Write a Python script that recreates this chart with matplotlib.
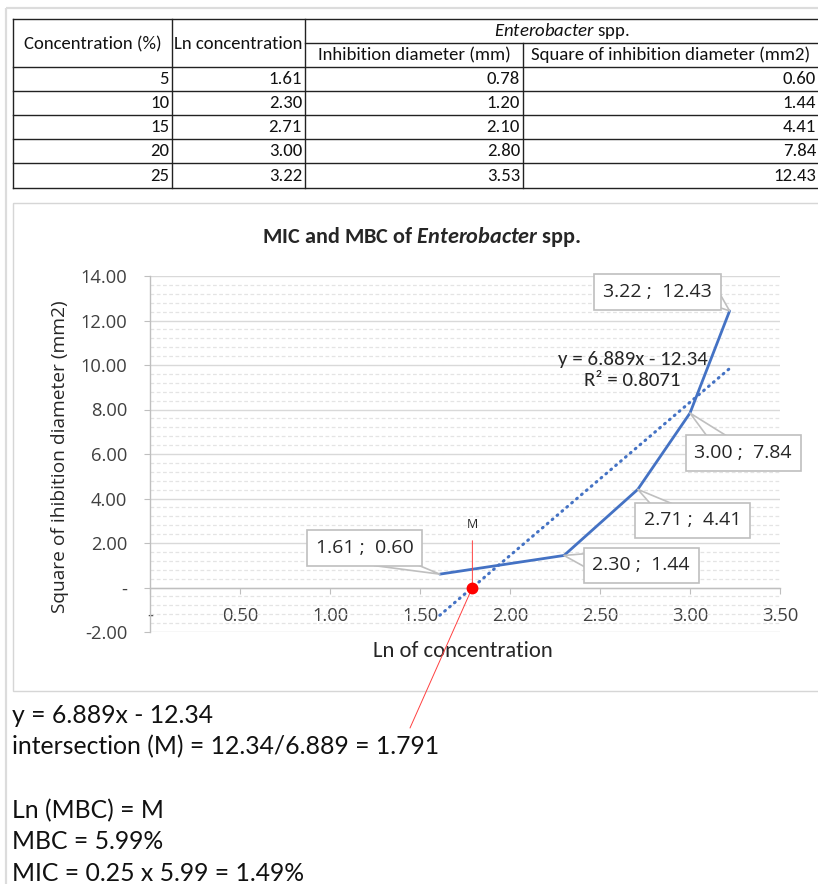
import matplotlib
matplotlib.use('Agg')
import matplotlib.pyplot as plt
from matplotlib import font_manager as fm
from matplotlib.ticker import MultipleLocator, FuncFormatter
from matplotlib.patches import Rectangle
import numpy as np

# ---------------- data ----------------
concentration = [5, 10, 15, 20, 25]
ln_conc = [1.61, 2.30, 2.71, 3.00, 3.22]
inhib_diam = [0.78, 1.20, 2.10, 2.80, 3.53]
sq_inhib = [0.60, 1.44, 4.41, 7.84, 12.43]
trend_slope = 6.889
trend_intercept = -12.34
r_squared = 0.8071
m_value = 1.791
x_ticks = [0, 0.5, 1.0, 1.5, 2.0, 2.5, 3.0, 3.5]
y_ticks = [-2, 0, 2, 4, 6, 8, 10, 12, 14]
table_headers = ["Concentration (%)", "Ln concentration",
                 "Inhibition diameter (mm)", "Square of inhibition diameter (mm2)"]
notes = ["y = 6.889x - 12.34",
         "intersection (M) = 12.34/6.889 = 1.791",
         "",
         "Ln (MBC) = M",
         "MBC = 5.99%",
         "MIC = 0.25 x 5.99 = 1.49%"]

available = {f.name for f in fm.fontManager.ttflist}
def pick(*names):
    for n in names:
        if n in available:
            return n
    return 'DejaVu Sans'

CAL = pick('Carlito', 'Lato', 'Open Sans')           # Calibri-like
SEG = pick('Open Sans', 'Noto Sans', 'Lato')         # Segoe-like
NARROW = pick('Liberation Sans Narrow', 'Lato', 'Open Sans')

plt.rcParams['mathtext.fontset'] = 'custom'
plt.rcParams['mathtext.rm'] = CAL
plt.rcParams['mathtext.it'] = CAL + ':italic'
plt.rcParams['mathtext.bf'] = CAL + ':bold'
plt.rcParams['mathtext.bfit'] = CAL + ':italic:bold'

W, H = 818, 884
fig = plt.figure(figsize=(W / 100, H / 100), dpi=100)
bg = fig.add_axes([0, 0, 1, 1])
bg.set_xlim(0, W)
bg.set_ylim(H, 0)
bg.axis('off')

# outer spreadsheet frame
bg.plot([6, 6], [8, H], color='#DCDCDC', lw=1.6, solid_capstyle='butt')
bg.plot([6, W], [8, 8], color='#DCDCDC', lw=1.6, solid_capstyle='butt')

# ---------------- table ----------------
col_x = [13, 172, 305, 523, 819]
row_y = [19, 67, 91, 115, 139, 163, 188]
tcol = '#222222'
tlw = 1.0
for yy in row_y:
    bg.plot([col_x[0], col_x[-1]], [yy, yy], color=tcol, lw=tlw)
bg.plot([col_x[2], col_x[-1]], [43, 43], color=tcol, lw=tlw)
for i, xx in enumerate(col_x[:-1]):
    if i == 3:
        bg.plot([xx, xx], [43, row_y[-1]], color=tcol, lw=tlw)
    else:
        bg.plot([xx, xx], [row_y[0], row_y[-1]], color=tcol, lw=tlw)

tfs = 13.5
tc = '#111111'
bg.text((col_x[0] + col_x[1]) / 2, 44, table_headers[0], ha='center', va='center',
        fontsize=tfs, family=CAL, color=tc)
bg.text((col_x[1] + col_x[2]) / 2, 44, table_headers[1], ha='center', va='center',
        fontsize=tfs, family=CAL, color=tc)
bg.text((col_x[2] + col_x[4]) / 2, 31, r'$\mathit{Enterobacter}$ spp.', ha='center',
        va='center', fontsize=tfs, family=CAL, color=tc)
bg.text((col_x[2] + col_x[3]) / 2, 55, table_headers[2], ha='center', va='center',
        fontsize=tfs, family=CAL, color=tc)
bg.text((col_x[3] + col_x[4]) / 2, 55, table_headers[3], ha='center', va='center',
        fontsize=tfs, family=CAL, color=tc)
for r in range(len(concentration)):
    yc = (row_y[r + 1] + row_y[r + 2]) / 2 + 0.5
    vals = [f"{concentration[r]}", f"{ln_conc[r]:.2f}", f"{inhib_diam[r]:.2f}", f"{sq_inhib[r]:.2f}"]
    for c, v in enumerate(vals):
        bg.text(col_x[c + 1] - 3, yc, v, ha='right', va='center', fontsize=tfs,
                family=CAL, color=tc)

# chart frame
bg.add_patch(Rectangle((13, 203), 830, 488, fill=False, ec='#D6D6D6', lw=1.0))

# ---------------- chart ----------------
L, R, T, B = 150, 780, 276, 632
ax = fig.add_axes([L / W, 1 - B / H, (R - L) / W, (B - T) / H])
ax.patch.set_visible(False)
ax.set_xlim(0, 3.5)
ax.set_ylim(-2, 14)
for s in ('top', 'right'):
    ax.spines[s].set_visible(False)
ax.spines['left'].set_color('#BFBFBF')
ax.spines['bottom'].set_color('#BFBFBF')
ax.spines['bottom'].set_position(('data', 0))
ax.spines['left'].set_linewidth(1.0)
ax.spines['bottom'].set_linewidth(1.0)

ax.set_xticks(x_ticks)
ax.set_yticks(y_ticks)
fmt = FuncFormatter(lambda v, p: '-' if abs(v) < 1e-9 else f"{v:.2f}")
ax.xaxis.set_major_formatter(fmt)
ax.yaxis.set_major_formatter(fmt)
ax.yaxis.set_minor_locator(MultipleLocator(0.4))
ax.tick_params(axis='both', which='major', direction='out', length=4.3, width=0.8,
               color='#BFBFBF', labelcolor='#404040', labelsize=13.2)
ax.tick_params(axis='x', pad=9.5)
ax.tick_params(axis='y', pad=12)
ax.tick_params(axis='y', which='minor', length=0)
for lab in ax.get_xticklabels() + ax.get_yticklabels():
    lab.set_family(SEG)
ax.set_axisbelow(True)
ax.grid(which='major', axis='y', color='#D9D9D9', lw=1.0)
ax.grid(which='minor', axis='y', color='#E4E4E4', lw=0.9, ls=(0, (3, 2)))

# trend line
xt = np.array([min(ln_conc), max(ln_conc)])
ax.plot(xt, trend_slope * xt + trend_intercept, color='#4472C4', lw=2.2,
        ls=(0, (0.3, 1.8)), dash_capstyle='round', zorder=3)
# series
ax.plot(ln_conc, sq_inhib, color='#4472C4', lw=2.0, solid_joinstyle='round',
        solid_capstyle='round', zorder=4)

# data label callouts (offset of box, and where the pointer leaves the box)
offsets = [(-75, 26), (77, -10), (55, -31), (53, -40), (-72, 19)]
anchors = [(0.62, 0.0), (0.0, 0.72), (0.25, 1.0), (0.3, 1.0), (1.0, 0.25)]
for xv, yv, (dx, dy), rp in zip(ln_conc, sq_inhib, offsets, anchors):
    ax.annotate(f"{xv:.2f} ;  {yv:.2f}", xy=(xv, yv), xytext=(dx, dy),
                textcoords='offset pixels', ha='center', va='center',
                fontsize=14, family=SEG, color='#262626', zorder=5,
                bbox=dict(boxstyle='square,pad=0.45', fc='white', ec='#BFBFBF', lw=1.2),
                arrowprops=dict(arrowstyle='wedge,tail_width=0.9,shrink_factor=0.5',
                                fc='white', ec='#BFBFBF', lw=1.2, shrinkA=0, shrinkB=0,
                                relpos=rp, patchA=None))

# trendline equation
ax.text(2.68, 9.78, f"y = {trend_slope}x - {abs(trend_intercept)}\nR\u00b2 = {r_squared}",
        ha='center', va='center', multialignment='center', linespacing=1.28,
        fontsize=15, family=CAL, color='#262626', zorder=5)

# M marker and leader lines
red = '#FF4040'
ax.plot([m_value], [0], 'o', color='#FF0000', ms=7.5, zorder=7)
ax.annotate('M', xy=(m_value, 0), xytext=(0, 63), textcoords='offset pixels',
            ha='center', va='center', fontsize=9, family=SEG, color='#262626',
            arrowprops=dict(arrowstyle='-', color=red, lw=0.7, shrinkA=5, shrinkB=0),
            zorder=6)
ax.annotate('', xy=(m_value, 0), xycoords='data', xytext=(410, 728),
            textcoords=bg.transData, annotation_clip=False,
            arrowprops=dict(arrowstyle='-', color=red, lw=0.7, shrinkA=0, shrinkB=0),
            zorder=6)

# titles
bg.text(422, 243, r"MIC and MBC of $\mathbfit{Enterobacter}$ spp.", ha='center',
        va='baseline', fontsize=16, fontweight='bold', family=CAL, color='#262626')
bg.text(60, 457, "Square of ihibition diameter (mm2)", rotation=90, ha='center',
        va='center', fontsize=13.8, family=SEG, color='#262626')
bg.text(463, 651, "Ln of concentration", ha='center', va='center', fontsize=16.3,
        family=CAL, color='#262626')

# notes under the chart
for i, line in enumerate(notes):
    if line:
        bg.text(12, 723 + i * 31.6, line, ha='left', va='baseline', fontsize=17.8,
                family=NARROW, color='#111111')

fig.savefig('out.png', dpi=100)
